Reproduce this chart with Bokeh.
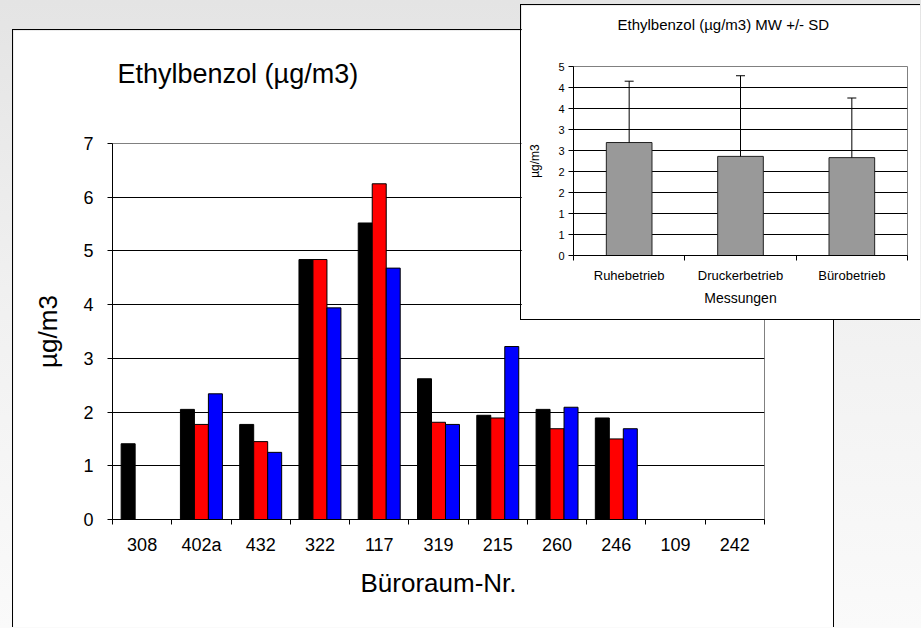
from bokeh.plotting import figure
from bokeh.models import Range1d, FixedTicker, ColumnDataSource, Whisker, TeeHead, Title
from bokeh.layouts import column
from bokeh.embed import file_html
from bokeh.resources import INLINE

# ---------------- data ----------------
rooms = ["308", "402a", "432", "322", "117", "319", "215", "260", "246", "109", "242"]
ruhe = [1.41, 2.05, 1.77, 4.84, 5.52, 2.62, 1.94, 2.05, 1.89, None, None]
drucker = [None, 1.77, 1.45, 4.84, 6.25, 1.81, 1.89, 1.69, 1.50, None, None]
buero = [None, 2.34, 1.25, 3.94, 4.68, 1.77, 3.22, 2.09, 1.69, None, None]
main_y_ticks = [0, 1, 2, 3, 4, 5, 6, 7]

phases = ["Ruhebetrieb", "Druckerbetrieb", "Bürobetrieb"]
phase_mean = [2.69, 2.36, 2.33]
phase_sd = [1.46, 1.92, 1.42]
inset_ticks = [0, 0.5, 1, 1.5, 2, 2.5, 3, 3.5, 4, 4.5]
inset_tick_labels = ["0", "1", "1", "2", "2", "3", "3", "4", "4", "5"]

FONT = "Liberation Sans"

# ---------------- main chart ----------------
p = figure(width=822, height=598, x_range=Range1d(-0.5, len(rooms) - 0.5), y_range=Range1d(0, 7),
           output_backend="svg", toolbar_location=None, frame_align=False, title=None,
           min_border_left=99, min_border_right=71, min_border_top=113, min_border_bottom=109,
           background_fill_color="white", border_fill_color="white",
           outline_line_color="#808080",
           margin=(29, 0, 0, 12),
           styles={"border-left": "1px solid black", "border-top": "1px solid black",
                   "border-right": "1px solid black"})

# spacer + title in the panel above the frame
p.add_layout(Title(text=" ", text_font_size="1px", standoff=52), "above")
p.add_layout(Title(text="Ethylbenzol (µg/m3)", align="left", offset=5, standoff=0,
                   text_font=FONT, text_font_size="27px", text_font_style="normal",
                   text_color="black"), "above")

bw = 0.236
for vals, off, col in [(ruhe, -bw, "black"), (drucker, 0.0, "red"), (buero, bw, "blue")]:
    xs = [i + off for i, v in enumerate(vals) if v is not None]
    ys = [v for v in vals if v is not None]
    p.vbar(x=xs, top=ys, bottom=0, width=bw, fill_color=col, line_color="black", line_width=1)

p.xaxis.ticker = FixedTicker(ticks=list(range(len(rooms))),
                             minor_ticks=[i - 0.5 for i in range(len(rooms) + 1)])
p.xaxis.major_label_overrides = {i: r for i, r in enumerate(rooms)}
p.xaxis.major_tick_out = 0
p.xaxis.major_tick_in = 0
p.xaxis.minor_tick_out = 5
p.xaxis.minor_tick_in = 0
p.xaxis.minor_tick_line_color = "black"
p.xaxis.major_label_standoff = 10
p.xaxis.axis_label = "Büroraum-Nr."
p.xaxis.axis_label_standoff = 10
p.xgrid.visible = False

p.yaxis.ticker = FixedTicker(ticks=main_y_ticks)
p.ygrid.ticker = p.yaxis.ticker
p.yaxis.minor_tick_line_color = None
p.yaxis.major_tick_in = 0
p.yaxis.major_tick_out = 5
p.yaxis.major_label_standoff = 14
p.yaxis.axis_label = "µg/m3"
p.yaxis.axis_label_standoff = 17
p.ygrid.grid_line_color = "black"

for ax in [p.xaxis, p.yaxis]:
    ax.major_label_text_font = FONT
    ax.major_label_text_font_size = "18px"
    ax.major_label_text_color = "black"
    ax.axis_label_text_font = FONT
    ax.axis_label_text_font_size = "26px"
    ax.axis_label_text_font_style = "normal"
    ax.axis_label_text_color = "black"
    ax.axis_line_color = "black"
    ax.major_tick_line_color = "black"

# ---------------- inset chart ----------------
q = figure(width=400, height=316, x_range=Range1d(-0.5, len(phases) - 0.5), y_range=Range1d(0, 4.5),
           output_backend="svg", toolbar_location=None, frame_align=False, title=None,
           min_border_left=52, min_border_right=14, min_border_top=61, min_border_bottom=66,
           background_fill_color="white", border_fill_color="white",
           outline_line_color="#808080",
           margin=(-623, 0, 0, 520),
           styles={"border-left": "1px solid black", "border-top": "1px solid black",
                   "border-bottom": "1px solid black"})

q.add_layout(Title(text=" ", text_font_size="1px", standoff=31), "above")
q.add_layout(Title(text="Ethylbenzol (µg/m3) MW +/- SD", align="left", offset=44, standoff=0,
                   text_font=FONT, text_font_size="15px", text_font_style="normal",
                   text_color="black"), "above")

src = ColumnDataSource(dict(x=list(range(len(phases))), top=phase_mean,
                            upper=[m + s for m, s in zip(phase_mean, phase_sd)]))
q.vbar(x="x", top="top", bottom=0, width=0.41, source=src,
       fill_color="#999999", line_color="#222222", line_width=1)
q.add_layout(Whisker(source=src, base="x", lower="top", upper="upper", dimension="height",
                     line_color="black", line_width=1, level="overlay",
                     upper_head=TeeHead(size=9, line_color="black", line_width=1),
                     lower_head=None))

q.xaxis.ticker = FixedTicker(ticks=list(range(len(phases))),
                             minor_ticks=[i - 0.5 for i in range(len(phases) + 1)])
q.xaxis.major_label_overrides = {i: ph for i, ph in enumerate(phases)}
q.xaxis.major_tick_out = 0
q.xaxis.major_tick_in = 0
q.xaxis.minor_tick_out = 5
q.xaxis.minor_tick_in = 0
q.xaxis.minor_tick_line_color = "black"
q.xaxis.major_label_standoff = 7
q.xaxis.axis_label = "Messungen"
q.xaxis.axis_label_standoff = 4
q.xgrid.visible = False

q.yaxis.ticker = FixedTicker(ticks=inset_ticks)
q.ygrid.ticker = q.yaxis.ticker
q.yaxis.major_label_overrides = {t: l for t, l in zip(inset_ticks, inset_tick_labels)}
q.yaxis.minor_tick_line_color = None
q.yaxis.major_tick_in = 0
q.yaxis.major_tick_out = 5
q.yaxis.major_label_standoff = 4
q.yaxis.axis_label = "µg/m3"
q.yaxis.axis_label_standoff = 13
q.ygrid.grid_line_color = "black"

for ax, lsz, asz in [(q.xaxis, "13px", "14px"), (q.yaxis, "11px", "12px")]:
    ax.major_label_text_font = FONT
    ax.major_label_text_font_size = lsz
    ax.major_label_text_color = "black"
    ax.axis_label_text_font = FONT
    ax.axis_label_text_font_size = asz
    ax.axis_label_text_font_style = "normal"
    ax.axis_label_text_color = "black"
    ax.axis_line_color = "black"
    ax.major_tick_line_color = "black"

layout = column(p, q, width=921, height=628,
                styles={"background": "linear-gradient(to bottom, #e4e4e4 0%, #f1f1f1 50%, #fafafa 100%)"})

with open("out.html", "w", encoding="utf-8") as f:
    f.write(file_html(layout, INLINE))
